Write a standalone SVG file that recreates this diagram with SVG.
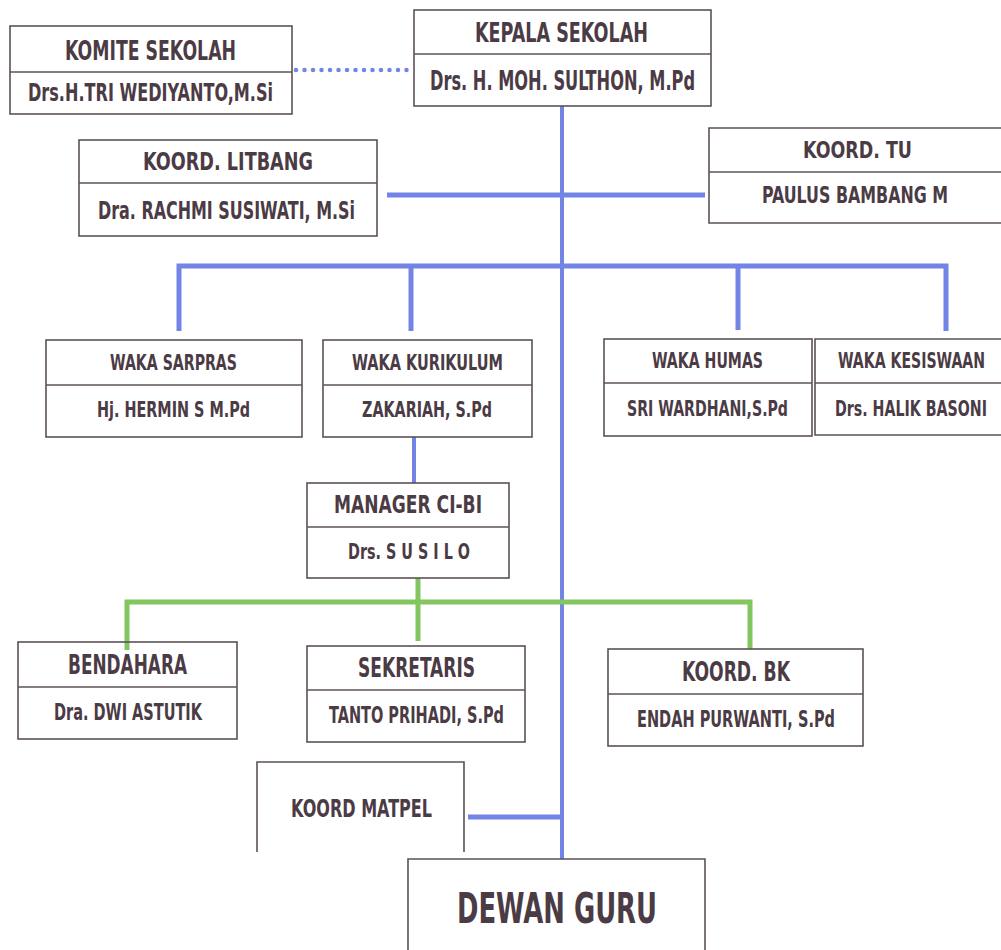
<svg xmlns="http://www.w3.org/2000/svg" width="1001" height="950" viewBox="0 0 1001 950">
<style>
.box{fill:none;stroke:#5c5258;stroke-width:1.6}
.t{font-family:"DejaVu Sans Condensed","DejaVu Sans",sans-serif;font-weight:bold;fill:#4b3b45}
.bl{stroke:#7285e6;fill:none;stroke-width:5}
.bt{stroke:#7285e6;fill:none;stroke-width:4}
.gr{stroke:#83c55e;fill:none;stroke-width:5}
.dot{stroke:#7285e6;fill:none;stroke-width:4.5;stroke-linecap:round;stroke-dasharray:0 8.5}
</style>
<rect width="1001" height="950" fill="#ffffff"/>
<g id="connectors">
<line class="dot" x1="296" y1="70" x2="412" y2="70"/>
<line class="bt" x1="562" y1="106" x2="562" y2="859"/>
<line class="bl" x1="387" y1="195" x2="705" y2="195"/>
<path class="bl" d="M179 331 V266 H946 V331"/>
<line class="bl" x1="411" y1="266" x2="411" y2="331"/>
<line class="bl" x1="738" y1="266" x2="738" y2="330"/>
<line class="bt" x1="414" y1="437" x2="414" y2="483"/>
<line class="gr" x1="418" y1="578" x2="418" y2="641"/>
<path class="gr" d="M127 650 V602 H750 V649"/>
<line class="bl" x1="468" y1="817" x2="562" y2="817"/>
</g>
<g id="komite">
<rect class="box" x="10" y="26" width="282" height="88"/>
<line class="box" x1="10" y1="72" x2="292" y2="72"/>
<text class="t" x="65" y="60" font-size="27" textLength="171" lengthAdjust="spacingAndGlyphs">KOMITE SEKOLAH</text>
<text class="t" x="28" y="101" font-size="25" textLength="245" lengthAdjust="spacingAndGlyphs">Drs.H.TRI WEDIYANTO,M.Si</text>
</g>
<g id="kepala">
<rect class="box" x="414" y="10" width="297" height="96"/>
<line class="box" x1="414" y1="54" x2="711" y2="54"/>
<text class="t" x="475" y="42" font-size="26" textLength="173" lengthAdjust="spacingAndGlyphs">KEPALA SEKOLAH</text>
<text class="t" x="430" y="90" font-size="26" textLength="265" lengthAdjust="spacingAndGlyphs">Drs. H. MOH. SULTHON, M.Pd</text>
</g>
<g id="litbang">
<rect class="box" x="79" y="140" width="298" height="96"/>
<line class="box" x1="79" y1="183" x2="377" y2="183"/>
<text class="t" x="143" y="170" font-size="24" textLength="170" lengthAdjust="spacingAndGlyphs">KOORD. LITBANG</text>
<text class="t" x="98" y="219" font-size="24" textLength="257" lengthAdjust="spacingAndGlyphs">Dra. RACHMI SUSIWATI, M.Si</text>
</g>
<g id="tu">
<path class="box" d="M1001 128 H709 V223 H1001"/>
<line class="box" x1="709" y1="172" x2="1001" y2="172"/>
<text class="t" x="803" y="158" font-size="23" textLength="109" lengthAdjust="spacingAndGlyphs">KOORD. TU</text>
<text class="t" x="762" y="203" font-size="23" textLength="186" lengthAdjust="spacingAndGlyphs">PAULUS BAMBANG M</text>
</g>
<g id="sarpras">
<rect class="box" x="46" y="340" width="256" height="97"/>
<line class="box" x1="46" y1="385" x2="302" y2="385"/>
<text class="t" x="110" y="370" font-size="22" textLength="127" lengthAdjust="spacingAndGlyphs">WAKA SARPRAS</text>
<text class="t" x="97" y="417" font-size="22" textLength="153" lengthAdjust="spacingAndGlyphs">Hj. HERMIN S M.Pd</text>
</g>
<g id="kurikulum">
<rect class="box" x="323" y="340" width="209" height="97"/>
<line class="box" x1="323" y1="385" x2="532" y2="385"/>
<text class="t" x="352" y="370" font-size="22" textLength="151" lengthAdjust="spacingAndGlyphs">WAKA KURIKULUM</text>
<text class="t" x="362" y="417" font-size="22" textLength="130" lengthAdjust="spacingAndGlyphs">ZAKARIAH, S.Pd</text>
</g>
<g id="humas">
<rect class="box" x="604" y="339" width="208" height="97"/>
<line class="box" x1="604" y1="383" x2="812" y2="383"/>
<text class="t" x="652" y="368" font-size="22" textLength="111" lengthAdjust="spacingAndGlyphs">WAKA HUMAS</text>
<text class="t" x="627" y="416" font-size="22" textLength="161" lengthAdjust="spacingAndGlyphs">SRI WARDHANI,S.Pd</text>
</g>
<g id="kesiswaan">
<path class="box" d="M1001 339 H815 V435 H1001"/>
<line class="box" x1="815" y1="383" x2="1001" y2="383"/>
<text class="t" x="838" y="368" font-size="22" textLength="147" lengthAdjust="spacingAndGlyphs">WAKA KESISWAAN</text>
<text class="t" x="835" y="416" font-size="22" textLength="152" lengthAdjust="spacingAndGlyphs">Drs. HALIK BASONI</text>
</g>
<g id="manager">
<rect class="box" x="307" y="483" width="202" height="95"/>
<line class="box" x1="307" y1="527" x2="509" y2="527"/>
<text class="t" x="334" y="513" font-size="25" textLength="148" lengthAdjust="spacingAndGlyphs">MANAGER CI-BI</text>
<text class="t" x="348" y="559" font-size="22" textLength="122" lengthAdjust="spacingAndGlyphs">Drs. S U S I L O</text>
</g>
<g id="bendahara">
<rect class="box" x="18" y="642" width="219" height="97"/>
<line class="box" x1="18" y1="687" x2="237" y2="687"/>
<text class="t" x="68" y="674" font-size="27" textLength="119" lengthAdjust="spacingAndGlyphs">BENDAHARA</text>
<text class="t" x="54" y="720" font-size="23" textLength="148" lengthAdjust="spacingAndGlyphs">Dra. DWI ASTUTIK</text>
</g>
<g id="sekretaris">
<rect class="box" x="307" y="646" width="218" height="96"/>
<line class="box" x1="307" y1="690" x2="525" y2="690"/>
<text class="t" x="358" y="677" font-size="26" textLength="117" lengthAdjust="spacingAndGlyphs">SEKRETARIS</text>
<text class="t" x="329" y="723" font-size="23" textLength="175" lengthAdjust="spacingAndGlyphs">TANTO PRIHADI, S.Pd</text>
</g>
<g id="koord-bk">
<rect class="box" x="608" y="649" width="255" height="97"/>
<line class="box" x1="608" y1="694" x2="863" y2="694"/>
<text class="t" x="682" y="681" font-size="26" textLength="108" lengthAdjust="spacingAndGlyphs">KOORD. BK</text>
<text class="t" x="637" y="727" font-size="23" textLength="198" lengthAdjust="spacingAndGlyphs">ENDAH PURWANTI, S.Pd</text>
</g>
<g id="matpel">
<path class="box" d="M257 852 V762 H464 V852"/>
<text class="t" x="291" y="817" font-size="25" textLength="141" lengthAdjust="spacingAndGlyphs">KOORD MATPEL</text>
</g>
<g id="dewan-guru">
<path class="box" d="M408 950 V859 H705 V950"/>
<text class="t" x="457" y="923" font-size="42" textLength="200" lengthAdjust="spacingAndGlyphs">DEWAN GURU</text>
</g>
</svg>
